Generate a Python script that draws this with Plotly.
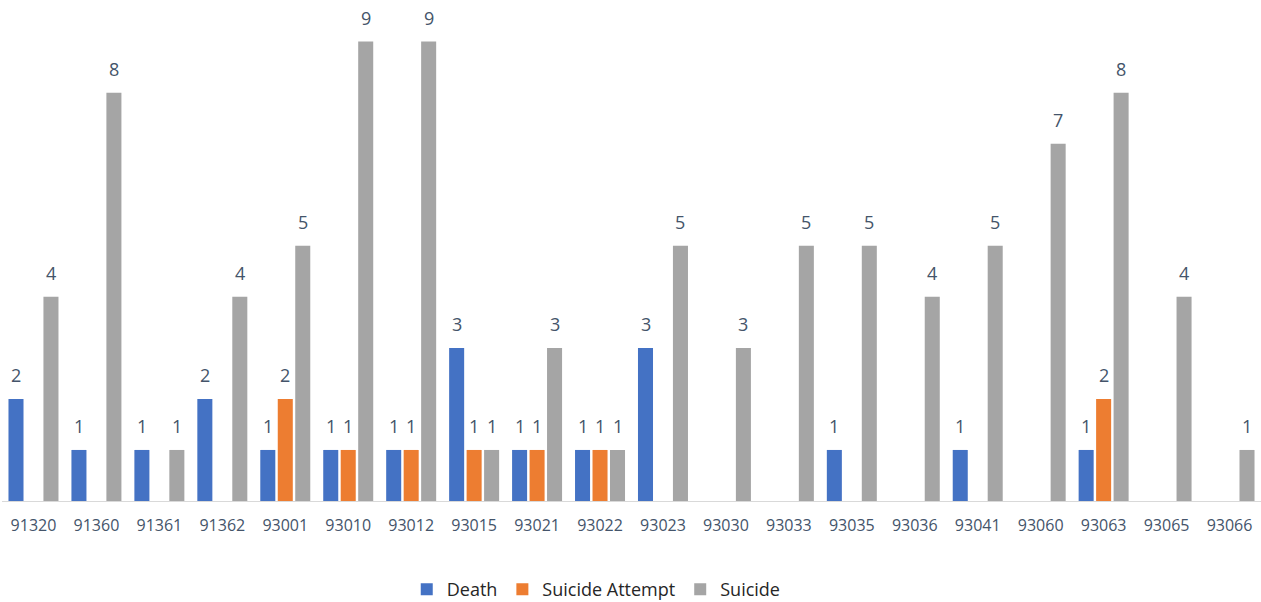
import plotly.graph_objects as go

# zip codes on the x axis
ZIPS = ['91320', '91360', '91361', '91362', '93001', '93010', '93012', '93015',
        '93021', '93022', '93023', '93030', '93033', '93035', '93036', '93041',
        '93060', '93063', '93065', '93066']

# counts per zip (None = no bar)
DEATH = [2, 1, 1, 2, 1, 1, 1, 3, 1, 1, 3, None, None, 1, None, 1, None, 1, None, None]
ATTEMPT = [None, None, None, None, 2, 1, 1, 1, 1, 1, None, None, None, None, None, None, None, 2, None, None]
SUICIDE = [4, 8, 1, 4, 5, 9, 9, 1, 3, 1, 5, 3, 5, 5, 4, 5, 7, 8, 4, 1]

SERIES = [('Death', DEATH, '#4472C4'),
          ('Suicide Attempt', ATTEMPT, '#ED7D31'),
          ('Suicide', SUICIDE, '#A5A5A5')]

FONT = 'Open Sans'
TEXT_COL = '#44546A'
BARGAP = 0.167

fig = go.Figure()

for name, vals, col in SERIES:
    fig.add_trace(go.Bar(
        x=ZIPS, y=vals, name=name,
        marker=dict(color=col, line=dict(width=0)),
        cliponaxis=False,
    ))

# data labels, placed over each bar of the group
slot = (1 - BARGAP) / len(SERIES)
for k, (name, vals, col) in enumerate(SERIES):
    off = (k - (len(SERIES) - 1) / 2) * slot
    for i, v in enumerate(vals):
        if v is None:
            continue
        fig.add_annotation(x=i + off, y=v, text=str(v), showarrow=False,
                           xref='x', yref='y', yanchor='bottom', yshift=10,
                           font=dict(family=FONT, size=18, color=TEXT_COL))

fig.update_layout(
    width=1261, height=602,
    margin=dict(l=2, r=0, t=11, b=101, autoexpand=False),
    plot_bgcolor='white', paper_bgcolor='white',
    barmode='group', bargap=BARGAP, bargroupgap=0.14,
    font=dict(family=FONT, color=TEXT_COL),
    showlegend=True,
    legend=dict(orientation='h', x=0.472, xanchor='center', y=-0.143, yanchor='top',
                font=dict(family=FONT, size=18, color='#262626'),
                traceorder='normal'),
)

fig.update_xaxes(type='category', showgrid=False, showline=True, linecolor='#D9D9D9',
                 linewidth=1, ticks='', automargin=False, ticklabelstandoff=10,
                 tickfont=dict(family=FONT, size=16, color=TEXT_COL))
fig.update_yaxes(range=[0, 9.6], visible=False, showgrid=False, zeroline=False,
                 automargin=False)

# drop the default page margin so the figure sits at the window's corner
fig.write_html("out.html", config={'displayModeBar': False},
               post_script="document.body.style.margin='0';")
